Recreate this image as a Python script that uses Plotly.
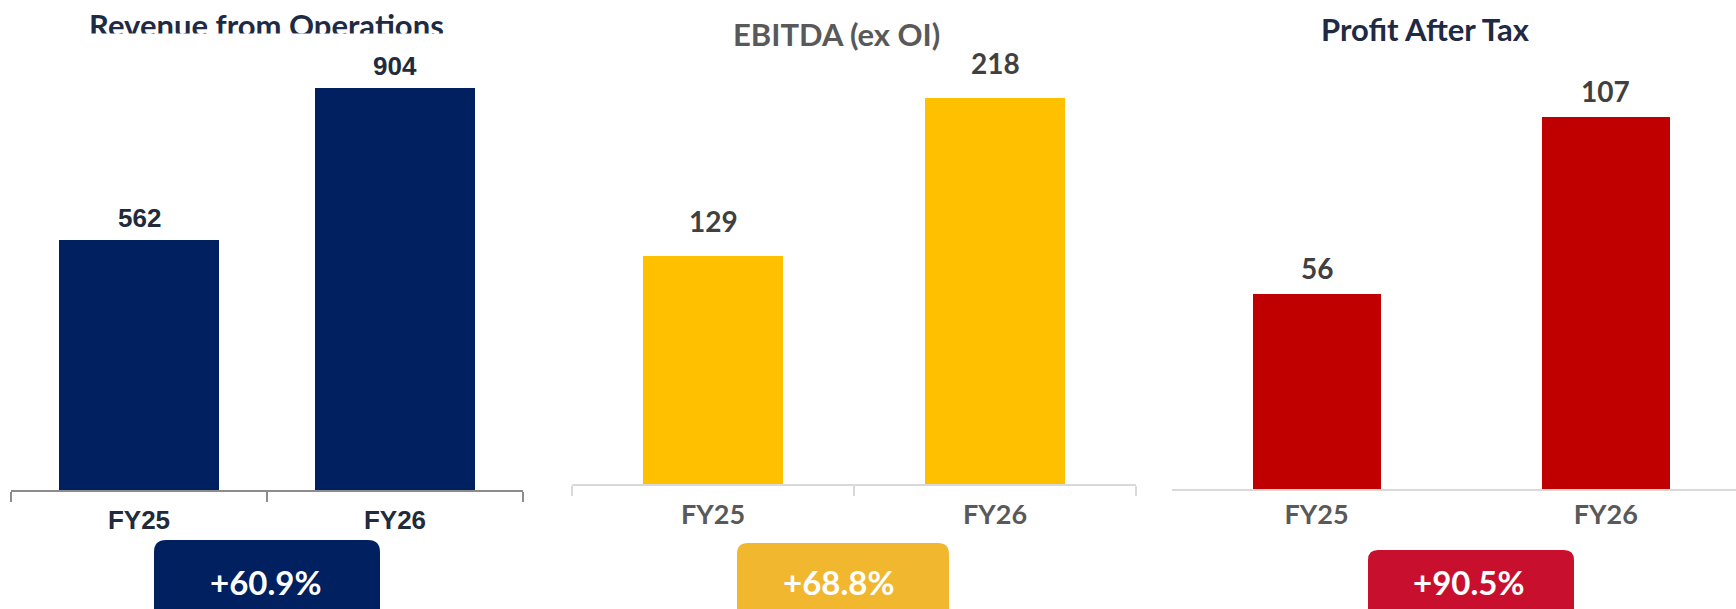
import plotly.graph_objects as go

# ---------------- data ----------------
categories = ["FY25", "FY26"]
revenue = [562, 904]
ebitda = [129, 218]
pat = [56, 107]
titles = ["Revenue from Operations", "EBITDA (ex OI)", "Profit After Tax"]
growth_labels = ["+60.9%", "+68.8%", "+90.5%"]

W, H = 1736, 609


def px(p):
    return p / W


def py(p):
    return 1 - p / H


NAVY = "#002060"
GOLD = "#FFC000"
RED = "#C00000"
TXT1 = "#222B3C"
GRAY_TXT = "#595959"
NUM_TXT = "#404040"
TITLE_DARK = "#1F2A44"

fig = go.Figure()

series = [revenue, ebitda, pat]
colors = [NAVY, GOLD, RED]
bar_widths = [0.625, 0.493, 0.443]
for i, (vals, col, bw) in enumerate(zip(series, colors, bar_widths)):
    fig.add_trace(go.Bar(
        x=categories, y=vals, width=bw, marker=dict(color=col, line=dict(width=0)),
        xaxis=f"x{i+1 if i else ''}", yaxis=f"y{i+1 if i else ''}",
        hoverinfo="skip", showlegend=False,
    ))

# axis geometry (pixels)
base = [490, 484, 489]
scale = [0.445, 1.769, 3.478]  # px per unit

layout = dict(
    width=W, height=H, margin=dict(l=0, r=0, t=0, b=0),
    paper_bgcolor="white", plot_bgcolor="rgba(0,0,0,0)",
    bargap=0, showlegend=False,
)

xdom = [[px(11), px(523)], [px(572), px(1136)], [px(1172), 1.0]]
xrng = [[-0.5, 1.5], [-0.5, 1.5], [-0.5, 1.45]]
line_cols = ["#8C8C8C", "#D9D9D9", "#D9D9D9"]
tick_fonts = [
    dict(family="Liberation Sans, Arial", size=26, color=TXT1, weight="bold"),
    dict(family="Lato", size=27, color=GRAY_TXT, weight="bold"),
    dict(family="Lato", size=27, color=GRAY_TXT, weight="bold"),
]
for i in range(3):
    sfx = str(i + 1) if i else ""
    xa = dict(
        domain=xdom[i], range=xrng[i], type="category",
        showline=True, linecolor=line_cols[i], linewidth=2,
        showgrid=False, zeroline=False, fixedrange=True,
        tickfont=tick_fonts[i], anchor=f"y{sfx}",
    )
    if i < 2:
        xa.update(ticks="outside", ticklen=10, tickwidth=2, tickcolor=line_cols[i],
                  tickson="boundaries", ticklabelstandoff=6)
    else:
        xa.update(ticks="", ticklabelstandoff=1)
    layout[f"xaxis{sfx}"] = xa
    layout[f"yaxis{sfx}"] = dict(
        domain=[py(base[i]), 1.0], range=[0, base[i] / scale[i]],
        visible=False, fixedrange=True, anchor=f"x{sfx}",
    )

fig.update_layout(**layout)

annotations = []

# value labels above bars
val_fonts = [
    dict(family="Liberation Sans, Arial", size=26, color=TXT1),
    dict(family="Lato", size=28, color=NUM_TXT),
    dict(family="Lato", size=28, color=NUM_TXT),
]
gaps = [22, 35, 26]
for i, vals in enumerate(series):
    sfx = str(i + 1) if i else ""
    for c, v in zip(categories, vals):
        annotations.append(dict(
            x=c, y=v, xref=f"x{sfx}", yref=f"y{sfx}", text=f"<b>{v}</b>",
            showarrow=False, yanchor="middle", xanchor="center", yshift=gaps[i],
            font=val_fonts[i],
        ))

# titles
title_pos = [(266, 24.5), (836, 34), (1425, 29)]
title_cols = [TITLE_DARK, GRAY_TXT, TITLE_DARK]
for t, (tx, ty), tc in zip(titles, title_pos, title_cols):
    annotations.append(dict(
        x=px(tx), y=py(ty), xref="paper", yref="paper", text=f"<b>{t}</b>",
        showarrow=False, xanchor="center", yanchor="middle",
        font=dict(family="Lato", size=31, color=tc),
    ))

# crop edge of first title (reference image is cut through it)
annotations.append(dict(
    x=px(266), y=py(33), xref="paper", yref="paper", text=" ",
    showarrow=False, xanchor="center", yanchor="top", width=420, height=14,
    bgcolor="white", borderpad=0, font=dict(size=4),
))

# growth boxes
box_geo = [(154, 380, 540, 12), (737, 949, 543, 11), (1368, 1574, 550, 10)]
box_cols = ["#00205F", "#F0B72F", "#C8102E"]
text_x = [265, 838, 1468]
shapes = []
for (x0, x1, y0, r), bc, tx, lab in zip(box_geo, box_cols, text_x, growth_labels):
    y1 = 660
    path = (f"M {px(x0)},{py(y1)} L {px(x0)},{py(y0 + r)} "
            f"Q {px(x0)},{py(y0)} {px(x0 + r)},{py(y0)} "
            f"L {px(x1 - r)},{py(y0)} Q {px(x1)},{py(y0)} {px(x1)},{py(y0 + r)} "
            f"L {px(x1)},{py(y1)} Z")
    shapes.append(dict(type="path", path=path, xref="paper", yref="paper",
                       fillcolor=bc, line=dict(width=0), layer="above"))
    annotations.append(dict(
        x=px(tx), y=py(582), xref="paper", yref="paper", text=f"<b>{lab}</b>",
        showarrow=False, xanchor="center", yanchor="middle",
        font=dict(family="Lato", size=33, color="white"),
    ))

fig.update_layout(annotations=annotations, shapes=shapes)

fig.write_html(
    "out.html",
    config={"displayModeBar": False},
    post_script="document.body.style.margin='0';document.body.style.overflow='hidden';",
)
